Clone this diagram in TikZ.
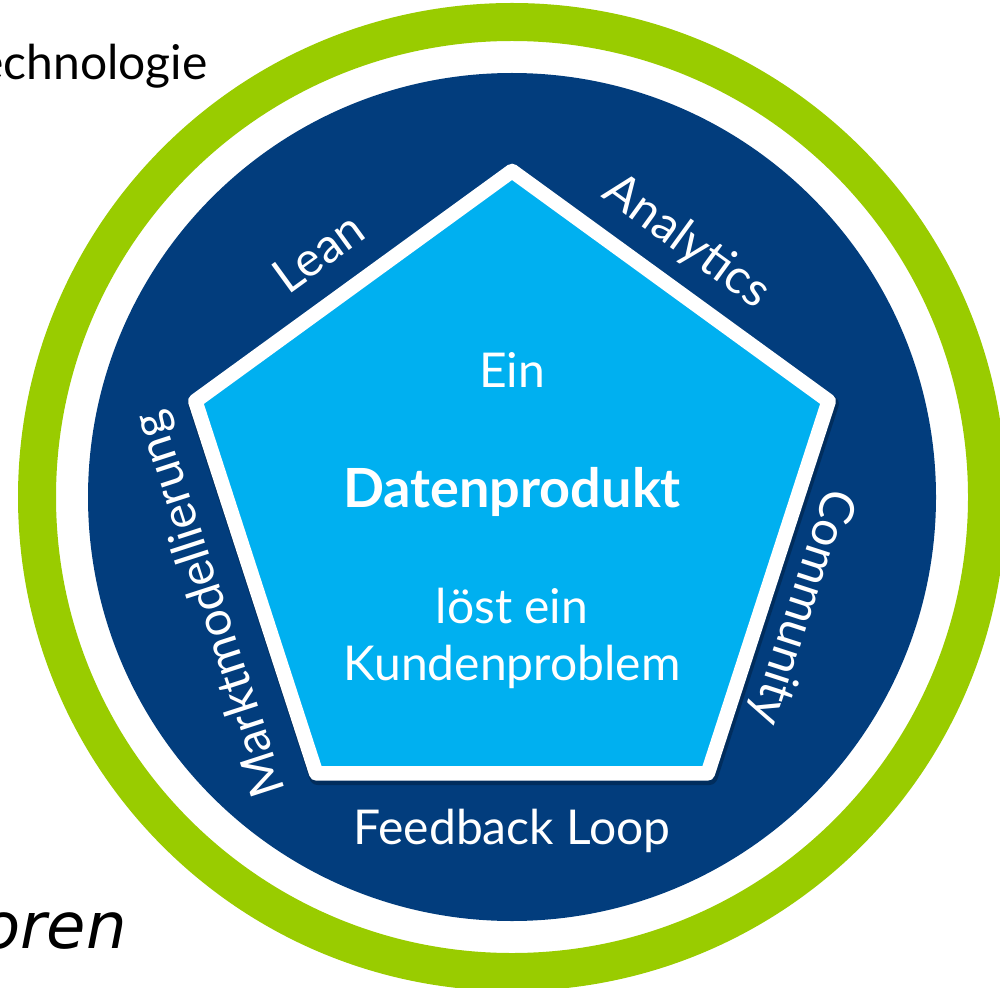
\documentclass[tikz,border=0pt]{standalone}
\usepackage{fontspec}
\setmainfont{Lato}
\newfontfamily\slantfont{DejaVu Sans}
\definecolor{ringgreen}{HTML}{99CC00}
\definecolor{darkblue}{HTML}{023D7D}
\definecolor{lightblue}{HTML}{00B0F0}
\tikzset{x=0.5pt, y=0.5pt,
    side label/.style={text=white, anchor=base, inner sep=0pt,
        font=\fontsize{24}{28}\selectfont},
    core text/.style={text=white, anchor=base, inner sep=0pt,
        font=\fontsize{24}{28}\selectfont},
    outer text/.style={anchor=base east, inner sep=0pt},
    }

\begin{document}
\begin{tikzpicture}
\useasboundingbox (0,0) rectangle (1000,987);
% rings
\draw[ringgreen, line width=19pt] (512,490) circle (475);
\fill[darkblue] (512,490) circle (424);
% pentagon
\begin{scope}[shift={(512,483)}]
\draw[black, opacity=0.25, line width=8.6pt, line join=round, shift={(1.5,-3)}]
    (90:333) \foreach \a in {162,234,306,18} {-- (\a:333)} -- cycle;
\draw[white, fill=lightblue, line width=7.3pt, line join=round]
    (90:333) \foreach \a in {162,234,306,18} {-- (\a:333)} -- cycle;
\end{scope}
\node[core text] (ein) at (512,600) {Ein};
\node[core text, font=\fontsize{27}{32}\selectfont\bfseries] (produkt) at (512,480) {Datenprodukt};
\node[core text] (loest) at (512,364) {löst ein};
\node[core text] (kunde) at (512,307) {Kundenproblem};
% sides
\node[side label, rotate=36] (lean) at (328,721) {Lean};
\node[side label, rotate=-36] (analytics) at (678,734) {Analytics};
\node[side label, rotate=-108] (community) at (789,384) {Community};
\node[side label, rotate=108] (markt) at (224,387) {Marktmodellierung};
\node[side label] (feedback) at (512,143) {Feedback Loop};
% cut texts
\node[outer text, font=\fontsize{24}{28}\selectfont] (tech) at (208,907) {echnologie};
\node[outer text, font=\slantfont\itshape\fontsize{32}{38}\selectfont] (oren) at (127,39) {oren};
\end{tikzpicture}
\end{document}
